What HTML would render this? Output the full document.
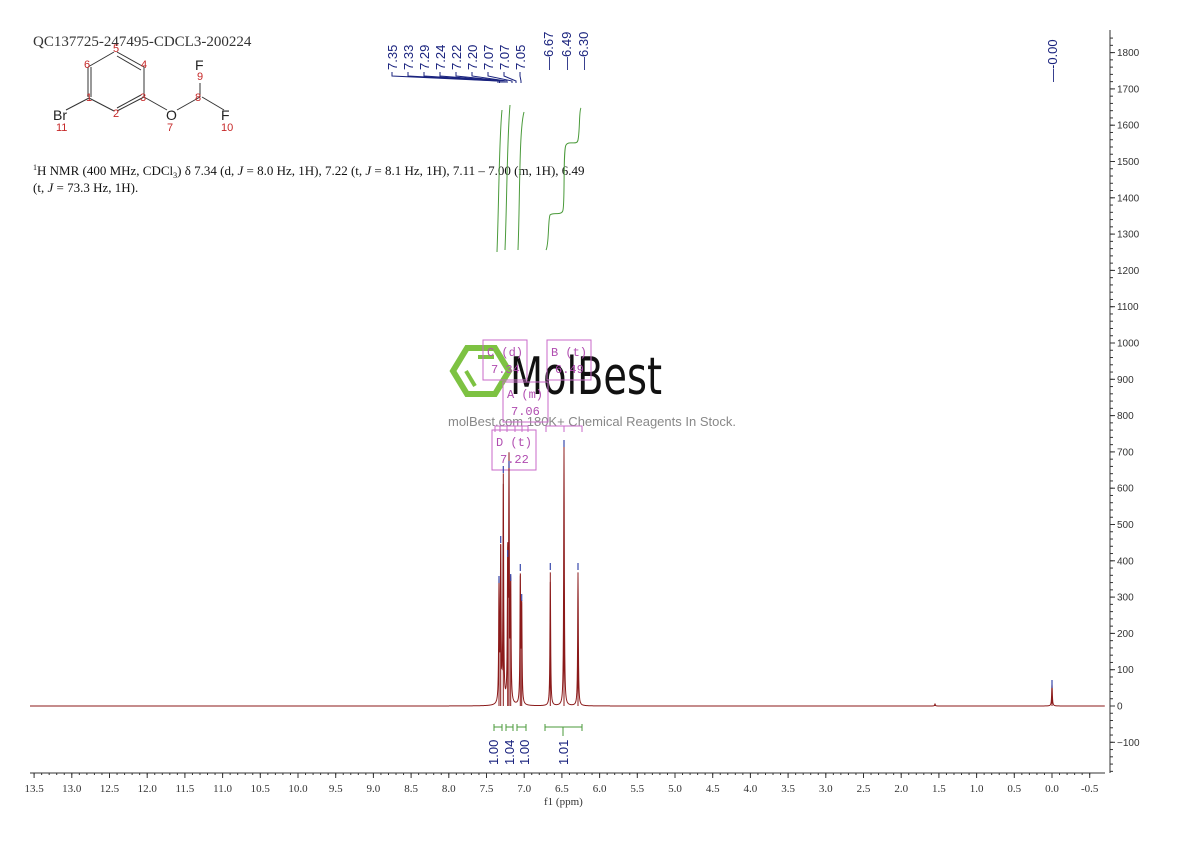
<!DOCTYPE html>
<html><head><meta charset="utf-8"><style>
body{margin:0;background:#fff;width:1190px;height:841px;overflow:hidden}
svg{display:block}
.ax{font-family:"Liberation Serif",serif;font-size:11px;fill:#333}
.yl{font-family:"Liberation Sans",sans-serif;font-size:10px;fill:#333}
.pl{font-family:"Liberation Sans",sans-serif;font-size:13px;fill:#1a237e}
.bx{font-family:"Liberation Mono",monospace;font-size:12px;fill:#b04cb0}
.lab{font-family:"Liberation Sans",sans-serif;font-size:11px;fill:#c62828}
</style></head><body>
<svg id="s" width="1190" height="841" xmlns="http://www.w3.org/2000/svg">
<text x="33" y="46" font-family="Liberation Serif,serif" font-size="15" fill="#333">QC137725-247495-CDCL3-200224</text>
<g stroke="#333" stroke-width="1" fill="none">
<line x1="88" y1="97" x2="88" y2="67"/><line x1="91" y1="97" x2="91" y2="67"/>
<line x1="88" y1="67" x2="114" y2="52"/>
<line x1="117" y1="52" x2="144" y2="67"/><line x1="117" y1="56" x2="141" y2="70"/>
<line x1="144" y1="67" x2="144" y2="97"/>
<line x1="144" y1="97" x2="117" y2="111"/><line x1="141" y1="95" x2="117" y2="108"/>
<line x1="114" y1="111" x2="89" y2="98"/>
<line x1="89" y1="98" x2="66" y2="110"/>
<line x1="144" y1="97" x2="167" y2="110"/>
<line x1="177" y1="110" x2="200" y2="97"/>
<line x1="200" y1="97" x2="200" y2="83"/>
<line x1="202" y1="97" x2="224" y2="110"/>
</g>
<g font-family="Liberation Sans,sans-serif" font-size="14" fill="#222">
<text x="53" y="120">Br</text><text x="166" y="120">O</text><text x="195" y="70">F</text><text x="221" y="120">F</text></g>
<g class="lab"><text x="113" y="52">5</text><text x="84" y="68">6</text><text x="141" y="68">4</text><text x="86" y="101">1</text><text x="140" y="101">3</text><text x="113" y="117">2</text><text x="197" y="80">9</text><text x="195" y="101">8</text><text x="167" y="131">7</text><text x="56" y="131">11</text><text x="221" y="131">10</text></g>
<text x="33" y="175" font-family="Liberation Serif,serif" font-size="13" fill="#111"><tspan font-size="8" dy="-5">1</tspan><tspan dy="5">H NMR (400 MHz, CDCl</tspan><tspan font-size="8" dy="3">3</tspan><tspan dy="-3">) δ 7.34 (d, <tspan font-style="italic">J</tspan> = 8.0 Hz, 1H), 7.22 (t, <tspan font-style="italic">J</tspan> = 8.1 Hz, 1H), 7.11 – 7.00 (m, 1H), 6.49</tspan></text>
<text x="33" y="192" font-family="Liberation Serif,serif" font-size="13" fill="#111">(t, <tspan font-style="italic">J</tspan> = 73.3 Hz, 1H).</text>
<g id="top"></g>
<g stroke="#4a9a3a" fill="none" stroke-width="1">
<path d="M497 252 C499 200 499 140 502 110"/>
<path d="M505 250 C507 200 507 140 510 105"/>
<path d="M518 250 C520 200 519 130 524 112"/>
<path d="M546 250 C549 245 548 220 550 215 C553 212 562 216 563 210 C565 200 563 150 566 145 C569 140 577 146 578 140 C580 130 579 110 581 108"/>
</g>
<g id="wm">
<polygon points="467,348 495,348 509,371 495,394 467,394 453,371" fill="none" stroke="#7dc242" stroke-width="6"/>
<line x1="466" y1="371" x2="475" y2="386" stroke="#7dc242" stroke-width="4"/>
<line x1="478" y1="357" x2="494" y2="357" stroke="#7dc242" stroke-width="4"/>
<text x="510" y="394" font-family="DejaVu Sans Condensed,Liberation Sans Narrow,sans-serif" font-size="52" fill="#111" textLength="152" lengthAdjust="spacingAndGlyphs">MolBest</text>
<text x="448" y="426" font-family="Liberation Sans,sans-serif" font-size="13" fill="#888">molBest.com 180K+ Chemical Reagents In Stock.</text>
</g>
<g fill="none" stroke="#c86ac8" stroke-width="1">
<rect x="483" y="340" width="44" height="40"/><rect x="547" y="340" width="44" height="40"/>
<rect x="503" y="382" width="45" height="40"/><rect x="492" y="430" width="44" height="40"/>
<path d="M495 432 V426 H528 V432 M500 426V432 M507 426V432 M515 426V432 M522 426V432 M546 432V426 H582 V432 M564 426 V432"/>
</g>
<g class="bx"><text x="487" y="356">C (d)</text><text x="491" y="373">7.34</text><text x="551" y="356">B (t)</text><text x="555" y="373">6.49</text><text x="507" y="398">A (m)</text><text x="511" y="415">7.06</text><text x="496" y="446">D (t)</text><text x="500" y="463">7.22</text></g>
<path id="sp" fill="none" stroke="#8b1a1a" stroke-width="1"/>
<g id="mk" stroke="#3949ab" stroke-width="1.2"></g>
<g stroke="#4a9a3a" fill="none"><path d="M494 724V731M494 727H502M502 724V731M506 724V731M506 727H513M513 724V731M517 724V731M517 727H526M526 724V731M545 724V731M545 727H582M582 724V731M563 727V736"/></g>
<g class="pl"><text transform="translate(498,765) rotate(-90)">1.00</text><text transform="translate(514,765) rotate(-90)">1.04</text><text transform="translate(529,765) rotate(-90)">1.00</text><text transform="translate(568,765) rotate(-90)">1.01</text></g>
<line x1="30" y1="773" x2="1105" y2="773" stroke="#333"/>
<g id="xa"></g>
<line x1="1110" y1="30" x2="1110" y2="773" stroke="#333"/>
<g id="ya"></g>
<text x="544" y="805" class="ax" font-size="10">f1 (ppm)</text>
</svg>
<script>
var NS="http://www.w3.org/2000/svg";
function el(p,t,a,txt){var e=document.createElementNS(NS,t);for(var k in a)e.setAttribute(k,a[k]);if(txt)e.textContent=txt;document.getElementById(p).appendChild(e);return e;}
var X=function(p){return 1052-p*75.4};
for(var i=0;i<=28;i++){var p=13.5-i*0.5,x=X(p);el("xa","line",{x1:x,y1:773,x2:x,y2:778,stroke:"#333"});
el("xa","text",{x:x,y:792,"text-anchor":"middle","class":"ax"},(p==0?"0.0":p.toFixed(1)));}
for(var p=13.5;p>=-0.5;p-=0.1){var x=X(p);el("xa","line",{x1:x,y1:773,x2:x,y2:775,stroke:"#333"});}
var Y=function(v){return 706-v*0.363};
for(var v=-100;v<=1800;v+=100){var y=Y(v);el("ya","line",{x1:1110,y1:y,x2:1115,y2:y,stroke:"#333"});
el("ya","text",{x:1117,y:y+3.5,"class":"yl"},(v<0?"−":"")+Math.abs(v));}
for(var v=-180;v<=1840;v+=20){var y=Y(v);if(y<30)continue;el("ya","line",{x1:1110,y1:y,x2:1113,y2:y,stroke:"#333"});}
var pk=[[499,118],[500.7,158],[503.3,228],[507.7,144],[509,233],[510.7,120],[520.3,130],[521.7,100],[550.3,131],[564,254],[578,131],[1052,22],[935,2]];
var d="",w=0.4;
for(var x=30;x<=1105;x+=0.2){var h=0;for(var j=0;j<pk.length;j++){var dx=(x-pk[j][0])/w;h+=pk[j][1]/(1+dx*dx);}
d+=(x==30?"M":"L")+x.toFixed(2)+" "+(706-h).toFixed(2);}
for(var j=0;j<pk.length;j++){d+="M"+pk[j][0]+" 706L"+pk[j][0]+" "+(706-pk[j][1]*1.02).toFixed(1);}
document.getElementById("sp").setAttribute("d",d);
for(var j=0;j<11;j++){var y=706-pk[j][1];el("mk","line",{x1:pk[j][0],y1:y-12,x2:pk[j][0],y2:y-5});}
el("mk","line",{x1:1052,y1:680,x2:1052,y2:688});
var tl=[["7.35",392,498],["7.33",408,499.5],["7.29",424,501],["7.24",440,503],["7.22",456,505],["7.20",472,507],["7.07",488,512],["7.07",504,516],["7.05",520,521]];
tl.forEach(function(t){el("top","text",{transform:"translate("+(t[1]+5)+",70) rotate(-90)","class":"pl"},t[0]);
el("top","path",{d:"M"+t[1]+" 72V76L"+t[2]+" 81V83",stroke:"#1a237e",fill:"none"});});
[["6.67",548],["6.49",566],["6.30",583]].forEach(function(t){el("top","text",{transform:"translate("+(t[1]+5)+",70) rotate(-90)","class":"pl"},"—"+t[0]);});
el("top","text",{transform:"translate(1057,82) rotate(-90)","class":"pl"},"—-0.00");
</script>
</body></html>
